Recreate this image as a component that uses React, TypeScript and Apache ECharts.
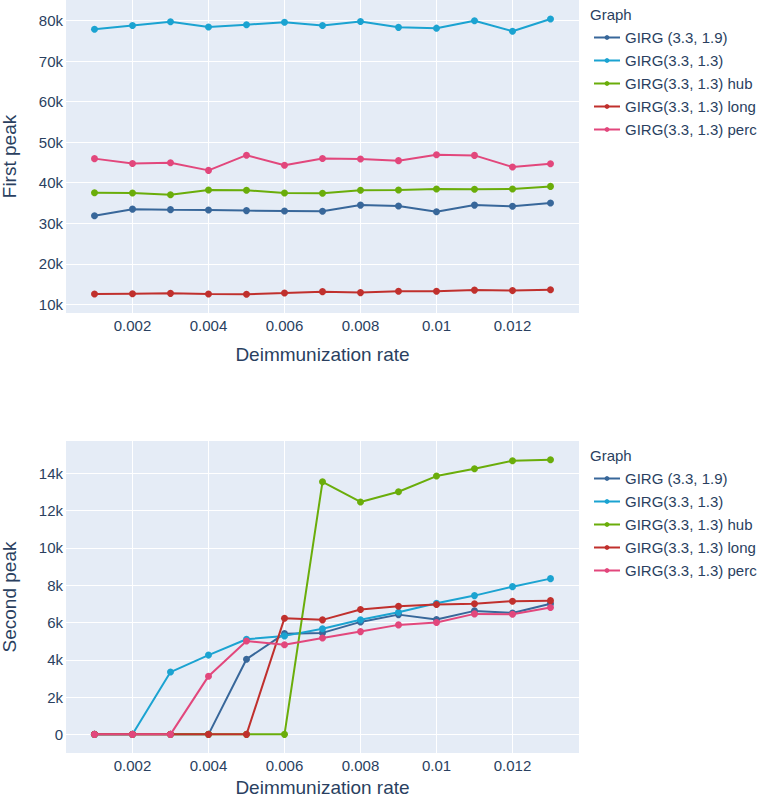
import React, { useEffect, useRef } from "react";
import * as echarts from "echarts";

const rates = [0.001, 0.002, 0.003, 0.004, 0.005, 0.006, 0.007, 0.008, 0.009, 0.01, 0.011, 0.012, 0.013];
const seriesNames = [
  "GIRG (3.3, 1.9)",
  "GIRG(3.3, 1.3)",
  "GIRG(3.3, 1.3) hub",
  "GIRG(3.3, 1.3) long",
  "GIRG(3.3, 1.3) perc",
];
const colors = ["#38679a", "#1ba3d1", "#6aad0a", "#c0302d", "#e2477c"];

const firstPeak = [
  [31850, 33480, 33360, 33260, 33120, 33030, 32950, 34480, 34250, 32820, 34480, 34200, 34980],
  [77900, 78800, 79750, 78450, 79000, 79600, 78800, 79780, 78350, 78150, 80000, 77400, 80400],
  [37550, 37480, 37050, 38200, 38150, 37480, 37400, 38150, 38200, 38450, 38400, 38450, 39100],
  [12520, 12620, 12700, 12540, 12470, 12780, 13120, 12880, 13200, 13200, 13500, 13380, 13600],
  [45950, 44750, 44950, 43050, 46800, 44300, 46000, 45850, 45450, 46900, 46750, 43880, 44700],
];

const secondPeak = [
  [0, 0, 0, 0, 4030, 5400, 5440, 6030, 6420, 6160, 6620, 6510, 7000],
  [0, 0, 3340, 4250, 5100, 5280, 5660, 6140, 6550, 7030, 7440, 7920, 8350],
  [0, 0, 0, 0, 0, 0, 13540, 12460, 13010, 13850, 14240, 14670, 14720],
  [0, 0, 0, 0, 0, 6230, 6140, 6690, 6870, 6960, 7000, 7140, 7170],
  [0, 0, 0, 3120, 5010, 4800, 5170, 5510, 5870, 6000, 6460, 6440, 6800],
];

const xTicks = [0.002, 0.004, 0.006, 0.008, 0.01, 0.012];
const yTicksTop = [10000, 20000, 30000, 40000, 50000, 60000, 70000, 80000];
const yTicksBottom = [0, 2000, 4000, 6000, 8000, 10000, 12000, 14000];

const FONT = "'Liberation Sans', Arial, sans-serif";
const TXT = "#2a3f5f";

export default function App() {
  const ref = useRef<HTMLDivElement>(null);
  useEffect(() => {
    if (!ref.current) return;
    const chart = echarts.init(ref.current, undefined, { renderer: "svg" });
    const kfmt = (v: number) => (v === 0 ? "0" : `${Math.round(v / 1000)}k`);
    const xAxisBase = (gridIndex: number, nameGap: number) => ({
      type: "value",
      gridIndex,
      min: 0.00025,
      max: 0.01375,
      name: "Deimmunization rate",
      nameLocation: "middle",
      nameGap,
      nameTextStyle: { color: TXT, fontSize: 19, fontFamily: FONT },
      axisLine: { show: false },
      axisTick: { show: false, customValues: xTicks },
      axisLabel: {
        customValues: xTicks,
        color: TXT,
        fontSize: 15,
        fontFamily: FONT,
        margin: 5,
        formatter: (v: number) => String(+v.toFixed(3)),
      },
      splitLine: { show: true, lineStyle: { color: "#ffffff", width: 1 } },
    });
    const yAxisBase = (gridIndex: number, min: number, max: number, ticks: number[], name: string) => ({
      type: "value",
      gridIndex,
      min,
      max,
      name,
      nameLocation: "middle",
      nameGap: 47,
      nameTextStyle: { color: TXT, fontSize: 19, fontFamily: FONT },
      axisLine: { show: false },
      axisTick: { show: false, customValues: ticks },
      axisLabel: {
        customValues: ticks,
        color: TXT,
        fontSize: 15,
        fontFamily: FONT,
        margin: 3,
        formatter: kfmt,
      },
      splitLine: { show: true, lineStyle: { color: "#ffffff", width: 1 } },
    });
    const legendBase = (top: number) => ({
      orient: "vertical",
      left: 593,
      top,
      padding: 0,
      itemWidth: 26,
      itemHeight: 6,
      itemGap: 8,
      data: seriesNames,
      textStyle: { color: TXT, fontSize: 15, fontFamily: FONT, lineHeight: 14 },
    });
    const mkSeries = (data: number[][], axisIndex: number) =>
      seriesNames.map((name, i) => ({
        name,
        type: "line",
        xAxisIndex: axisIndex,
        yAxisIndex: axisIndex,
        data: rates.map((r, j) => [r, data[i][j]]),
        symbol: "circle",
        symbolSize: 7,
        showSymbol: true,
        lineStyle: { width: 2, color: colors[i] },
        itemStyle: { color: colors[i] },
        z: 2 + i,
      }));
    const titleStyle = { color: TXT, fontSize: 15, fontWeight: "normal", fontFamily: FONT };
    chart.setOption({
      animation: false,
      color: colors,
      textStyle: { fontFamily: FONT },
      title: [
        { text: "Graph", left: 590, top: 7, padding: 0, textStyle: titleStyle },
        { text: "Graph", left: 590, top: 448, padding: 0, textStyle: titleStyle },
      ],
      legend: [legendBase(30), legendBase(471)],
      grid: [
        { left: 66, top: 0, width: 513, height: 313, show: true, backgroundColor: "#E5ECF6", borderWidth: 0, outerBoundsMode: "none", containLabel: false },
        { left: 66, top: 441, width: 513, height: 312, show: true, backgroundColor: "#E5ECF6", borderWidth: 0, outerBoundsMode: "none", containLabel: false },
      ],
      xAxis: [xAxisBase(0, 32), xAxisBase(1, 25)],
      yAxis: [
        yAxisBase(0, 7850, 85100, yTicksTop, "First peak"),
        yAxisBase(1, -1000, 15730, yTicksBottom, "Second peak"),
      ],
      series: [...mkSeries(firstPeak, 0), ...mkSeries(secondPeak, 1)],
    });
    return () => chart.dispose();
  }, []);
  return <div ref={ref} style={{ position: "absolute", left: 0, top: 0, width: 768, height: 800 }} />;
}
